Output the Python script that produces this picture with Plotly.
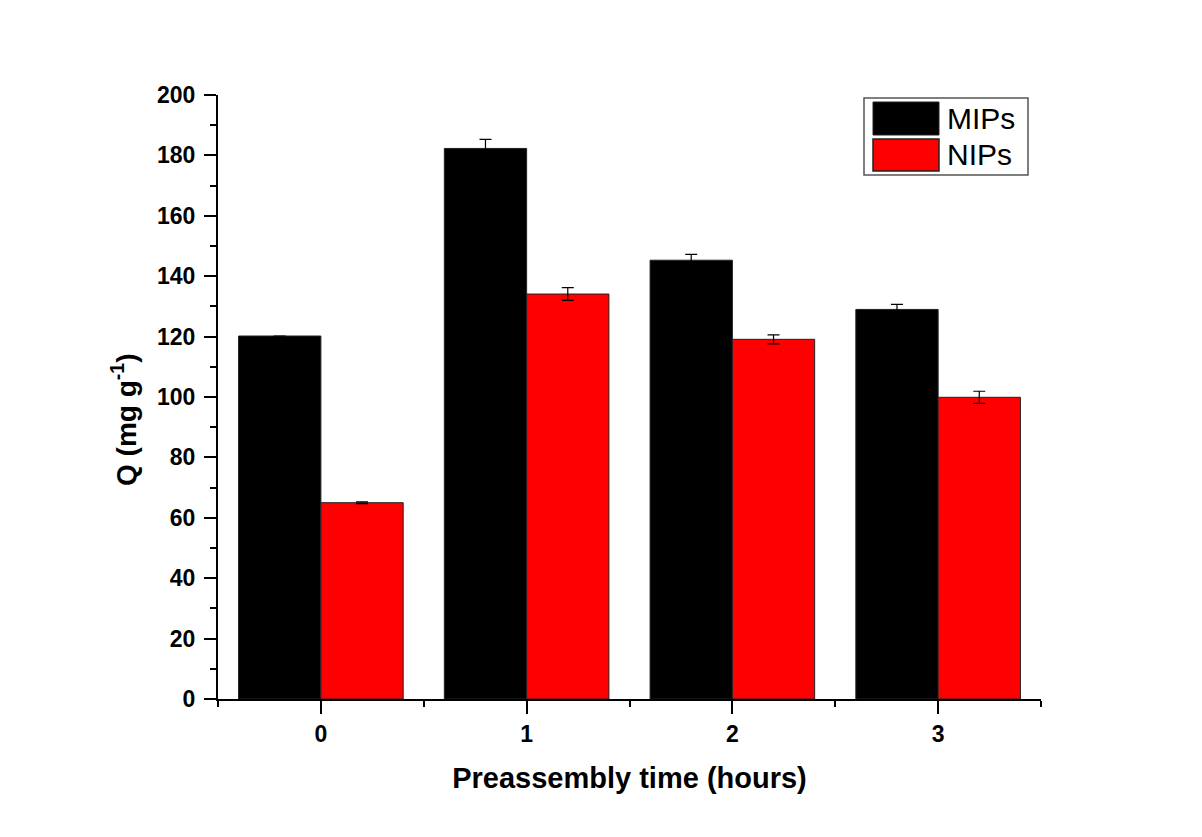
import plotly.graph_objects as go

categories = ["0", "1", "2", "3"]
mips = [120.2, 182.3, 145.3, 129.0]
mips_err = [0.0, 3.0, 1.9, 1.7]
nips = [65.0, 134.1, 119.1, 99.9]
nips_err = [0.3, 2.1, 1.5, 2.0]
xpos = [0, 1, 2, 3]

FONT = "Arial, Liberation Sans, sans-serif"

fig = go.Figure()
fig.add_trace(go.Bar(
    x=xpos, y=mips, name="MIPs",
    marker=dict(color="black", line=dict(color="#222222", width=1)),
    error_y=dict(type="data", array=mips_err, visible=True, color="black", thickness=1.2, width=6),
    showlegend=False,
))
fig.add_trace(go.Bar(
    x=xpos, y=nips, name="NIPs",
    marker=dict(color="#ff0000", line=dict(color="#222222", width=1)),
    error_y=dict(type="data", array=nips_err, visible=True, color="black", thickness=1.2, width=6),
    showlegend=False,
))

# page body has an 8px margin, so shift margins accordingly
fig.update_layout(
    width=1202, height=837,
    margin=dict(l=210, r=169, t=87, b=146),
    paper_bgcolor="white", plot_bgcolor="white",
    barmode="group", bargap=0.2, bargroupgap=0,
    font=dict(family=FONT, color="black"),
    xaxis=dict(
        range=[-0.5, 3.5], tickmode="array", tickvals=xpos, ticktext=categories,
        ticks="outside", ticklen=13, tickwidth=2, tickcolor="black",
        minor=dict(tickmode="array", tickvals=[-0.5, 0.5, 1.5, 2.5, 3.5], ticks="outside",
                   ticklen=6, tickwidth=2, tickcolor="black"),
        showline=True, linecolor="black", linewidth=2, showgrid=False, zeroline=False,
        tickfont=dict(family=FONT, size=23, color="black", weight="bold"),
        title=dict(text="Preassembly time (hours)", standoff=22,
                   font=dict(family=FONT, size=29, color="black", weight="bold")),
    ),
    yaxis=dict(
        range=[0, 200], tickmode="linear", tick0=0, dtick=20,
        ticks="outside", ticklen=12, tickwidth=2, tickcolor="black",
        ticklabelstandoff=4,
        minor=dict(dtick=10, ticks="outside", ticklen=6, tickwidth=2, tickcolor="black"),
        showline=True, linecolor="black", linewidth=2, showgrid=False, zeroline=False,
        tickfont=dict(family=FONT, size=23, color="black", weight="bold"),
    ),
)

# pixel -> paper helpers (reference plot area: x 218..1041, y 95..699)
def px_x(p):
    return (p - 218) / (1041 - 218)

def px_y(p):
    return (699 - p) / (699 - 95)

# Y axis title as rotated annotation (positioned like the reference)
fig.add_annotation(xref="paper", yref="paper", x=px_x(124), y=px_y(420),
                   text="Q (mg g<sup>-1</sup>)", textangle=-90, showarrow=False,
                   xanchor="center", yanchor="middle",
                   font=dict(family=FONT, size=28, color="black", weight="bold"))

# Custom legend box
fig.add_shape(type="rect", xref="paper", yref="paper",
              x0=px_x(864), x1=px_x(1028), y0=px_y(175), y1=px_y(98),
              line=dict(color="#555555", width=1.5), fillcolor="white")
fig.add_shape(type="rect", xref="paper", yref="paper",
              x0=px_x(873), x1=px_x(939), y0=px_y(135), y1=px_y(102),
              line=dict(color="#222222", width=1), fillcolor="black")
fig.add_shape(type="rect", xref="paper", yref="paper",
              x0=px_x(873), x1=px_x(939), y0=px_y(171), y1=px_y(139),
              line=dict(color="#222222", width=1.5), fillcolor="#ff0000")
for label, yc in [("MIPs", 118), ("NIPs", 155)]:
    fig.add_annotation(xref="paper", yref="paper", x=px_x(945), y=px_y(yc),
                       text=label, showarrow=False, xanchor="left", yanchor="middle",
                       font=dict(family=FONT, size=30, color="black"))

fig.write_html("out.html")
